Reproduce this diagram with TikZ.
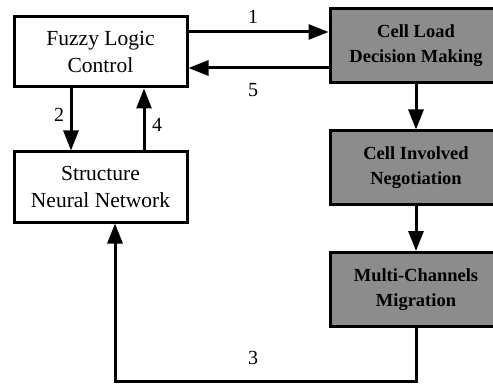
\documentclass[tikz,border=0pt]{standalone}
\usepackage{fontspec}
\setmainfont{Liberation Serif}
\usetikzlibrary{arrows.meta}
\definecolor{boxgray}{RGB}{140,140,140}
\begin{document}
\begin{tikzpicture}[x=1pt,y=-1pt,line width=3pt,
  plainbox/.style={draw,fill=white,minimum width=173pt,minimum height=70pt,
    align=center,font=\fontsize{21.5}{27}\selectfont,inner sep=0pt},
  graybox/.style={draw,fill=boxgray,minimum width=172pt,minimum height=74pt,
    align=center,font=\fontsize{18.5}{25}\selectfont\bfseries,inner sep=0pt},
  arr/.style={-{Triangle[length=20pt,width=15pt]}},
  num/.style={font=\fontsize{20}{20}\selectfont}]
\useasboundingbox[fill=white] (0,0) rectangle (493,385);
% left hand
\node[plainbox] (fuzzy) at (100.5,52) {Fuzzy Logic\\Control};
\node[plainbox] (struct) at (100.5,187) {Structure\\Neural Network};
% right hand
\node[graybox] (load) at (416,46) {Cell Load\\Decision Making};
\node[graybox] (involved) at (416,168) {Cell Involved\\Negotiation};
\node[graybox] (multi) at (416,289.5) {Multi-Channels\\Migration};
% connectors
\draw[arr] ([yshift=20pt]fuzzy.east) -- ([yshift=20pt]fuzzy.east -| load.west);
\draw[arr] ([yshift=-16pt]fuzzy.east -| load.west) -- ([yshift=-16pt]fuzzy.east);
\draw[arr] ([xshift=-29.5pt]fuzzy.south) -- ([xshift=-29.5pt]struct.north);
\draw[arr] ([xshift=43.5pt]struct.north) -- ([xshift=43.5pt]fuzzy.south);
\draw[arr] (load) -- (involved);
\draw[arr] (involved) -- (multi);
\draw[arr] (multi.south) -- ++(0,53) -| ([xshift=14.5pt]struct.south);
% (x,y) [num] {label}
\node[num] (n1) at (253,17) {1};
\node[num] (n5) at (253,90) {5};
\node[num] (n2) at (59,115) {2};
\node[num] (n4) at (157,125) {4};
\node[num] (n3) at (253,358) {3};
\end{tikzpicture}
\end{document}
